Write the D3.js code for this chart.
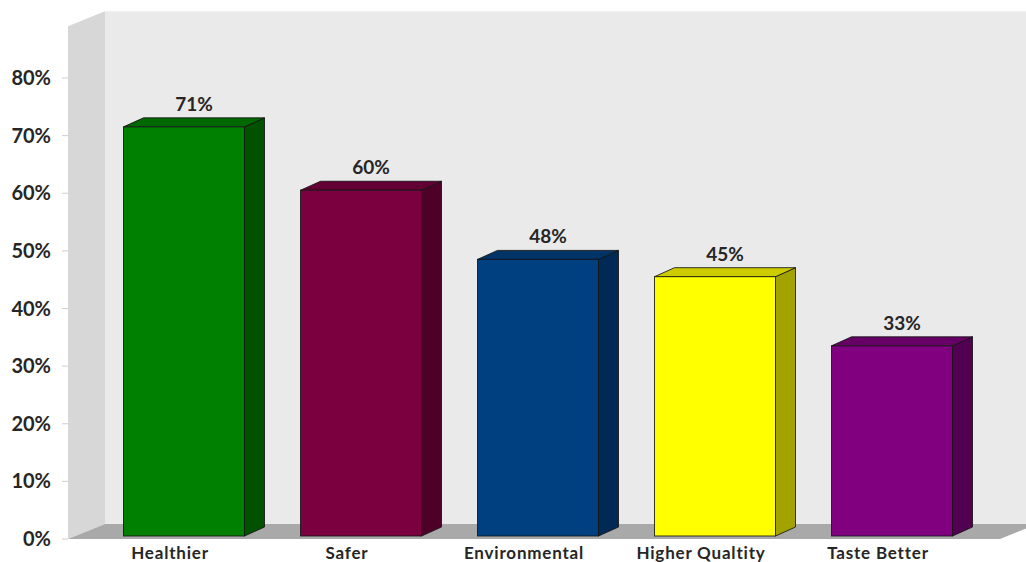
<!DOCTYPE html>
<html>
<head>
<meta charset="utf-8">
<script src="https://cdn.jsdelivr.net/npm/d3@7"></script>
<style>
  html, body { margin: 0; padding: 0; background: #ffffff; }
  svg { display: block; }
  text { font-family: Lato, "Open Sans", sans-serif; font-weight: 700; fill: #262626; }
</style>
</head>
<body>
<svg id="chart" width="1026" height="562"></svg>
<script>
// Survey reasons, share of respondents (%)
const categories = ["Healthier", "Safer", "Environmental", "Higher Qualtity", "Taste Better"];
const values = [71, 60, 48, 45, 33];
const tickValues = [0, 10, 20, 30, 40, 50, 60, 70, 80];
const tickLabels = ["0%", "10%", "20%", "30%", "40%", "50%", "60%", "70%", "80%"];

// Face colours per bar: front, top, side
const frontColors = ["#008000", "#7b0040", "#004080", "#ffff00", "#800080"];
const topColors   = ["#006800", "#620033", "#003366", "#cccc00", "#660066"];
const sideColors  = ["#005200", "#4f0029", "#002a55", "#a3a300", "#520052"];

const svg = d3.select("#chart");

// Oblique 3D projection settings
const wallDepth = { dx: 37, dy: -15 };   // full depth of the chart box
const barDepth  = { dx: 20, dy: -9 };    // depth of each bar
const barShift  = { dx: 14, dy: -3 };    // bars sit a little behind the front plane
const barWidth = 121;

const y = d3.scaleLinear().domain([0, 80]).range([539, 78]);
const x = d3.scaleBand().domain(categories).range([81.5, 966.5]);

const wallTopY = y(89);
const frontLeft = 68, frontRight = 1000;
const base = y(0);

function pts(arr) { return arr.map(p => p.join(",")).join(" "); }

// Back wall
svg.append("polygon")
  .attr("points", pts([
    [frontLeft + wallDepth.dx, wallTopY + wallDepth.dy],
    [1026 + 40, wallTopY + wallDepth.dy],
    [1026 + 40, base + wallDepth.dy],
    [frontLeft + wallDepth.dx, base + wallDepth.dy]
  ]))
  .attr("fill", "#eaeaea");

// Left side wall
svg.append("polygon")
  .attr("points", pts([
    [frontLeft, wallTopY],
    [frontLeft + wallDepth.dx, wallTopY + wallDepth.dy],
    [frontLeft + wallDepth.dx, base + wallDepth.dy],
    [frontLeft, base]
  ]))
  .attr("fill", "#d7d7d7");

// Floor
svg.append("polygon")
  .attr("points", pts([
    [frontLeft, base],
    [frontLeft + wallDepth.dx, base + wallDepth.dy],
    [frontRight + wallDepth.dx, base + wallDepth.dy],
    [frontRight, base]
  ]))
  .attr("fill", "#a9a9a9");

// Value axis: ticks and labels on the front edge of the side wall
const axis = svg.append("g");
axis.selectAll("line")
  .data(tickValues)
  .join("line")
  .attr("x1", frontLeft - 6).attr("x2", frontLeft)
  .attr("y1", d => y(d)).attr("y2", d => y(d))
  .attr("stroke", "#cfcfcf").attr("stroke-width", 1);
axis.selectAll("text")
  .data(tickValues)
  .join("text")
  .attr("x", 51)
  .attr("y", d => y(d) + 7)
  .attr("text-anchor", "end")
  .attr("font-size", 20)
  .attr("fill", "#1e1e1e")
  .text((d, i) => tickLabels[i]);

// Bars
const bars = svg.append("g")
  .selectAll("g")
  .data(categories.map((c, i) => ({ c, v: values[i], i })))
  .join("g");

bars.each(function (d) {
  const g = d3.select(this);
  const x0 = x(d.c) + x.bandwidth() / 2 - barWidth / 2 + barShift.dx;
  const x1 = x0 + barWidth;
  const yb = y(0) + barShift.dy;
  const yt = y(d.v) + barShift.dy;
  const stroke = "rgba(20,20,20,0.85)";

  // side face
  g.append("polygon")
    .attr("points", pts([[x1, yt], [x1 + barDepth.dx, yt + barDepth.dy],
                         [x1 + barDepth.dx, yb + barDepth.dy], [x1, yb]]))
    .attr("fill", sideColors[d.i]).attr("stroke", stroke).attr("stroke-width", 1)
    .attr("stroke-linejoin", "round");
  // top face
  g.append("polygon")
    .attr("points", pts([[x0, yt], [x0 + barDepth.dx, yt + barDepth.dy],
                         [x1 + barDepth.dx, yt + barDepth.dy], [x1, yt]]))
    .attr("fill", topColors[d.i]).attr("stroke", stroke).attr("stroke-width", 1)
    .attr("stroke-linejoin", "round");
  // front face
  g.append("rect")
    .attr("x", x0).attr("y", yt)
    .attr("width", barWidth).attr("height", yb - yt)
    .attr("fill", frontColors[d.i]).attr("stroke", stroke).attr("stroke-width", 1);

  // value label
  g.append("text")
    .attr("x", x0 + barWidth / 2 + barDepth.dx / 2)
    .attr("y", yt + barDepth.dy - 7)
    .attr("text-anchor", "middle")
    .attr("font-size", 19)
    .text(d.v + "%");
});

// Category labels
svg.append("g")
  .selectAll("text")
  .data(categories)
  .join("text")
  .attr("x", d => x(d) + x.bandwidth() / 2)
  .attr("y", 559)
  .attr("text-anchor", "middle")
  .attr("font-size", 17)
  .attr("letter-spacing", 0.8)
  .text(d => d);
</script>
</body>
</html>
